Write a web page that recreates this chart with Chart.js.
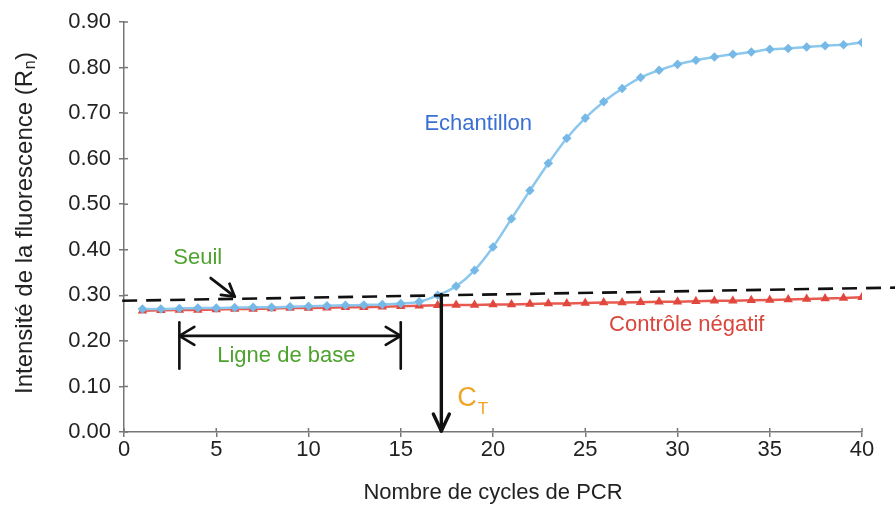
<!DOCTYPE html>
<html><head><meta charset="utf-8">
<script src="https://cdn.jsdelivr.net/npm/chart.js@4.4.1/dist/chart.umd.min.js"></script>
<style>html,body{margin:0;padding:0;background:#fff;}#wrap{width:895px;height:506px;}</style>
</head><body><div id="wrap"><canvas id="c" width="895" height="506"></canvas></div>
<script>
const cycles = [1,2,3,4,5,6,7,8,9,10,11,12,13,14,15,16,17,18,19,20,21,22,23,24,25,26,27,28,29,30,31,32,33,34,35,36,37,38,39,40];
const echantillon = [0.270,0.270,0.271,0.272,0.272,0.273,0.274,0.274,0.275,0.276,0.277,0.278,0.279,0.280,0.282,0.286,0.300,0.320,0.355,0.406,0.468,0.530,0.590,0.645,0.689,0.725,0.754,0.778,0.794,0.807,0.816,0.823,0.829,0.834,0.840,0.842,0.845,0.848,0.850,0.855];
const controleNegatif = [0.266,0.267,0.268,0.268,0.269,0.270,0.270,0.271,0.272,0.272,0.273,0.274,0.274,0.275,0.276,0.277,0.278,0.279,0.279,0.280,0.280,0.281,0.282,0.282,0.283,0.284,0.284,0.285,0.286,0.286,0.287,0.288,0.288,0.289,0.290,0.291,0.292,0.293,0.294,0.296];
const seuilX = [-0.1, 41.8];
const seuilY = [0.288, 0.317];
const xTicks = [0,5,10,15,20,25,30,35,40];
const yTicks = [0,0.1,0.2,0.3,0.4,0.5,0.6,0.7,0.8,0.9];
const ctValue = 17.2;
const baselineStart = 3, baselineEnd = 15;

const FONT = "'Liberation Sans', Arial, sans-serif";
Chart.defaults.font.family = FONT;
Chart.defaults.color = '#222';

const pts = (xs, ys) => xs.map((v, i) => ({x: v, y: ys[i]}));

function arrowHead(ctx, fx, fy, tx, ty, len, hw) {
  const a = Math.atan2(ty - fy, tx - fx);
  const bx = tx - len * Math.cos(a), by = ty - len * Math.sin(a);
  const px = -Math.sin(a) * hw, py = Math.cos(a) * hw;
  ctx.beginPath();
  ctx.moveTo(bx + px, by + py); ctx.lineTo(tx, ty); ctx.lineTo(bx - px, by - py);
  ctx.stroke();
}

const annot = {
  id: 'annot',
  afterDatasetsDraw(chart) {
    const {ctx, scales: {x, y}} = chart;
    const X = v => x.getPixelForValue(v), Y = v => y.getPixelForValue(v);
    ctx.save();
    // inner tick marks
    ctx.strokeStyle = '#777'; ctx.lineWidth = 1.5;
    xTicks.forEach(v => { ctx.beginPath(); ctx.moveTo(X(v), Y(0)); ctx.lineTo(X(v), Y(0) - 4); ctx.stroke(); });
    yTicks.forEach(v => { ctx.beginPath(); ctx.moveTo(X(0), Y(v)); ctx.lineTo(X(0) + 4, Y(v)); ctx.stroke(); });

    ctx.strokeStyle = '#111'; ctx.lineCap = 'round'; ctx.lineJoin = 'round';
    // Seuil arrow
    ctx.lineWidth = 2.8;
    const s0 = [X(4.7), Y(0.338)], s1 = [X(6.0), Y(0.297)];
    ctx.beginPath(); ctx.moveTo(s0[0], s0[1]); ctx.lineTo(s1[0], s1[1]); ctx.stroke();
    arrowHead(ctx, s0[0], s0[1], s1[0], s1[1], 12, 7);
    // baseline double arrow
    ctx.lineWidth = 2.6;
    const by = Y(0.211);
    ctx.beginPath(); ctx.moveTo(X(baselineStart), by); ctx.lineTo(X(baselineEnd), by); ctx.stroke();
    arrowHead(ctx, X(baselineEnd), by, X(baselineStart), by, 15, 9);
    arrowHead(ctx, X(baselineStart), by, X(baselineEnd), by, 15, 9);
    [baselineStart, baselineEnd].forEach(v => {
      ctx.beginPath(); ctx.moveTo(X(v), Y(0.241)); ctx.lineTo(X(v), Y(0.139)); ctx.stroke();
    });
    // CT arrow
    ctx.lineWidth = 3.4;
    ctx.beginPath(); ctx.moveTo(X(ctValue), Y(0.302)); ctx.lineTo(X(ctValue), Y(0) - 1); ctx.stroke();
    arrowHead(ctx, X(ctValue), Y(0.2), X(ctValue), Y(0) - 1, 17, 8);

    // texts
    ctx.textBaseline = 'middle'; ctx.textAlign = 'center';
    ctx.font = '22px ' + FONT;
    ctx.fillStyle = '#3a6fd4'; ctx.fillText('Echantillon', X(19.2), Y(0.676));
    ctx.fillStyle = '#4ea32e'; ctx.fillText('Seuil', X(4.0), Y(0.382));
    ctx.fillText('Ligne de base', X(8.8), Y(0.167));
    ctx.fillStyle = '#d8463c'; ctx.fillText('Contrôle négatif', X(30.5), Y(0.236));
    // C_T
    ctx.textAlign = 'left'; ctx.textBaseline = 'alphabetic';
    ctx.fillStyle = '#f0a424';
    ctx.font = '27px ' + FONT;
    const cx = X(ctValue) + 16, cy = Y(0.056);
    ctx.fillText('C', cx, cy);
    const cw = ctx.measureText('C').width;
    ctx.font = '17px ' + FONT;
    ctx.fillText('T', cx + cw + 1, cy + 8);

    // y axis title
    ctx.fillStyle = '#222';
    ctx.translate(25, 223); ctx.rotate(-Math.PI / 2);
    ctx.textBaseline = 'middle';
    const big = '24px ' + FONT, small = '16px ' + FONT;
    ctx.font = big;
    const mainT = 'Intensité de la fluorescence (R';
    const wMain = ctx.measureText(mainT).width;
    const wClose = ctx.measureText(')').width;
    ctx.font = small;
    const wSub = ctx.measureText('n').width;
    const total = wMain + wSub + wClose + 1;
    let sx = -total / 2;
    ctx.font = big;
    ctx.fillText(mainT, sx, 0);
    ctx.font = small;
    ctx.fillText('n', sx + wMain + 0.5, 6);
    ctx.font = big;
    ctx.fillText(')', sx + wMain + wSub + 1, 0);
    ctx.restore();
  }
};

new Chart(document.getElementById('c'), {
  type: 'line',
  data: {
    datasets: [
      { label: 'Seuil', data: pts(seuilX, seuilY), borderColor: '#111', borderWidth: 2.6, borderDash: [15, 9], pointRadius: 0, clip: false, order: 0 },
      { label: 'Echantillon', data: pts(cycles, echantillon), borderColor: '#8cc8ee', borderWidth: 2.5, pointStyle: 'rectRot', pointRadius: 3, pointBackgroundColor: '#76b8e6', pointBorderColor: '#76b8e6', cubicInterpolationMode: 'monotone', order: 1 },
      { label: 'Contrôle négatif', data: pts(cycles, controleNegatif), borderColor: '#e85a50', borderWidth: 2.5, pointStyle: 'triangle', pointRadius: 3, pointBackgroundColor: '#e0483e', pointBorderColor: '#e0483e', order: 2 }
    ]
  },
  options: {
    responsive: false, animation: false, devicePixelRatio: 1,
    layout: { padding: { left: 0, right: 33, top: 22, bottom: 0 } },
    plugins: { legend: { display: false }, tooltip: { enabled: false } },
    scales: {
      x: {
        type: 'linear', min: 0, max: 40,
        afterFit: s => { s.height = 74; },
        afterBuildTicks: s => { s.ticks = xTicks.map(v => ({value: v})); },
        ticks: { font: { size: 22 }, color: '#222', padding: 0, maxRotation: 0 },
        grid: { drawOnChartArea: false, drawTicks: true, tickLength: 5, color: '#777', lineWidth: 1.5 },
        border: { color: '#777', width: 1.5 },
        title: { display: true, text: 'Nombre de cycles de PCR', font: { size: 22 }, color: '#222', padding: { top: 8, bottom: 0 } }
      },
      y: {
        min: 0, max: 0.9,
        afterFit: s => { s.width = 124; },
        afterBuildTicks: s => { s.ticks = yTicks.map(v => ({value: v})); },
        ticks: { font: { size: 22 }, color: '#222', padding: 8, callback: v => Number(v).toFixed(2) },
        grid: { drawOnChartArea: false, drawTicks: true, tickLength: 5, color: '#777', lineWidth: 1.5 },
        border: { color: '#777', width: 1.5 }
      }
    }
  },
  plugins: [annot]
});
</script></body></html>
